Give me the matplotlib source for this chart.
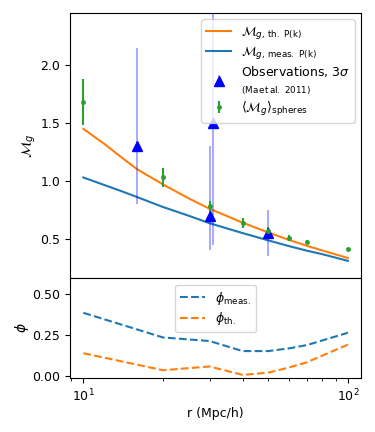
# coding: utf-8
import matplotlib
matplotlib.use("Agg")
import matplotlib.pyplot as plt
import numpy as np

# Model curves
r_model = [10, 12, 14, 16, 20, 25, 30, 40, 50, 60, 70, 80, 100]
mg_th = [1.45, 1.32, 1.20, 1.10, 0.97, 0.85, 0.76, 0.64, 0.555, 0.49, 0.44, 0.40, 0.335]
mg_meas = [1.03, 0.965, 0.91, 0.86, 0.775, 0.70, 0.635, 0.55, 0.487, 0.437, 0.398, 0.368, 0.31]

# Spheres measurement
r_sph = [10, 20, 30, 40, 50, 60, 70, 100]
mg_sph = [1.68, 1.03, 0.78, 0.635, 0.57, 0.51, 0.472, 0.41]
mg_sph_err = [0.2, 0.08, 0.045, 0.045, 0.035, 0.025, 0.02, 0.015]

# Observations (Ma et al. 2011)
r_obs = [16, 30, 31, 50]
mg_obs = [1.3, 0.70, 1.5, 0.55]
obs_err_lo = [0.5, 0.3, 1.05, 0.2]
obs_err_hi = [0.85, 0.6, 1.05, 0.2]

# Residuals
r_phi = [10, 20, 30, 40, 50, 60, 70, 100]
phi_meas = [0.387, 0.235, 0.213, 0.151, 0.151, 0.168, 0.188, 0.264]
phi_th = [0.138, 0.033, 0.056, 0.004, 0.018, 0.05, 0.082, 0.191]

fig = plt.figure(figsize=(3.75, 4.32), dpi=100)
gs = fig.add_gridspec(2, 1, height_ratios=[2.66, 1], hspace=0,
                      left=0.187, right=0.963, top=0.97, bottom=0.125)
ax1 = fig.add_subplot(gs[0])
ax2 = fig.add_subplot(gs[1], sharex=ax1)

ax1.plot(r_model, mg_th, color="C1", lw=1.5, label=r"$\mathcal{M}_{g,\,\mathrm{th.\ P(k)}}$")
ax1.plot(r_model, mg_meas, color="C0", lw=1.5, label=r"$\mathcal{M}_{g,\,\mathrm{meas.\ P(k)}}$")
ax1.errorbar(r_obs, mg_obs, yerr=[obs_err_lo, obs_err_hi], fmt="^", color="blue", ms=7,
             ecolor=(0.0, 0.0, 1.0, 0.4), elinewidth=1.2,
             label="Observations, $3\\sigma$\n$_{\\mathrm{(Ma\\,et\\,al.\\ 2011)}}$")
ax1.errorbar(r_sph, mg_sph, yerr=mg_sph_err, fmt=".", color="C2", ms=5, elinewidth=1.5,
             label=r"$\langle\mathcal{M}_g\rangle_{\mathrm{spheres}}$")
ax1.set_xscale("log")
ax1.set_ylim(0.16, 2.45)
ax1.set_ylabel(r"$\mathcal{M}_g$", fontsize=10, labelpad=2)
ax1.tick_params(labelsize=9, labelbottom=False)
ax1.legend(loc="upper right", fontsize=9, labelspacing=0.25)

ax2.plot(r_phi, phi_meas, "--", color="C0", label=r"$\phi_{\mathrm{meas.}}$")
ax2.plot(r_phi, phi_th, "--", color="C1", label=r"$\phi_{\mathrm{th.}}$")
ax2.set_ylim(-0.015, 0.60)
ax2.set_yticks([0.0, 0.25, 0.5])
ax2.set_ylabel(r"$\phi$", fontsize=10, labelpad=1)
ax2.set_xlabel("r (Mpc/h)", fontsize=9, labelpad=2)
ax2.tick_params(labelsize=9)
ax2.legend(loc="upper center", fontsize=9, labelspacing=0.3)

plt.savefig("out.png", dpi=100)
